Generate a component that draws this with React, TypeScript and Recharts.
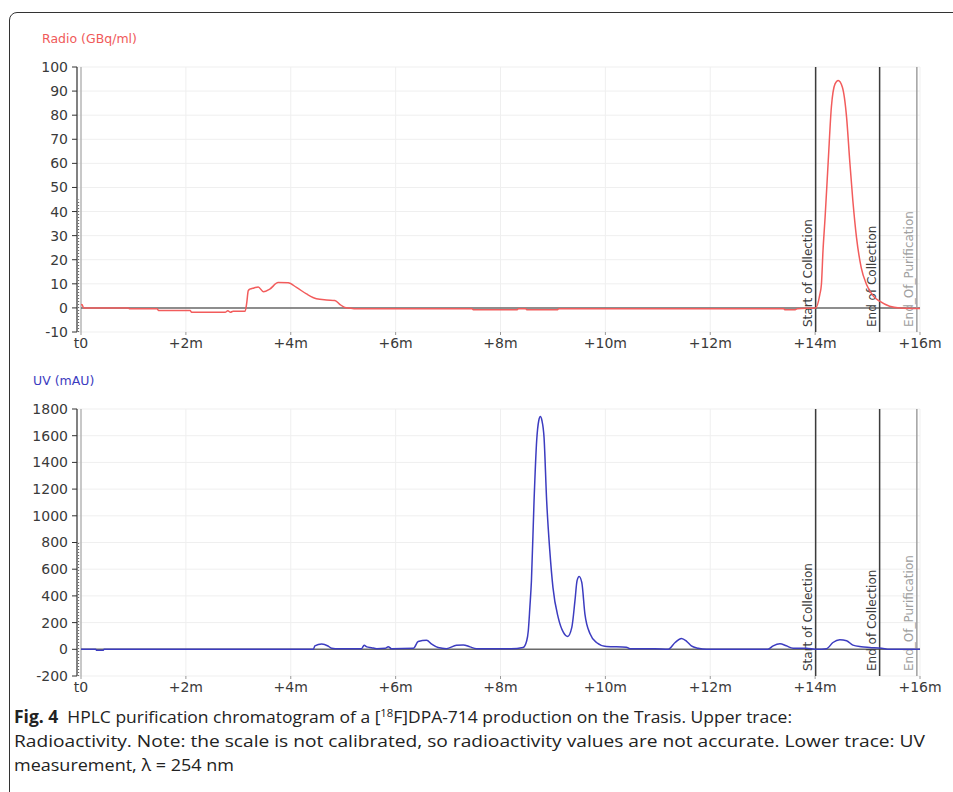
import React from 'react';
import { LineChart, Line, XAxis, YAxis, CartesianGrid, ReferenceLine } from 'recharts';

const xTicks = [0, 2, 4, 6, 8, 10, 12, 14, 16];
const radioTicks = [-10, 0, 10, 20, 30, 40, 50, 60, 70, 80, 90, 100];
const uvTicks = [-200, 0, 200, 400, 600, 800, 1000, 1200, 1400, 1600, 1800];

const radioTime = [0, 0.02, 0.05, 0.9, 0.93, 1.45, 1.48, 2.08, 2.11, 2.75, 2.8, 2.85, 2.9, 3.13, 3.16, 3.19, 3.22, 3.3, 3.38, 3.48, 3.6, 3.76, 3.95, 4.11, 4.3, 4.49, 4.68, 4.84, 4.94, 5.03, 5.12, 5.25, 7.46, 7.48, 8.31, 8.34, 8.48, 8.51, 9.08, 9.11, 13.4, 13.43, 13.62, 13.66, 14.01, 14.09, 14.12, 14.15, 14.19, 14.25, 14.31, 14.38, 14.44, 14.52, 14.6, 14.66, 14.72, 14.79, 14.88, 14.98, 15.11, 15.23, 15.42, 15.61, 16.0];
const radioValue = [1.4, 1.3, 0, 0, -0.4, -0.4, -1.1, -1.1, -1.8, -1.8, -1.2, -1.8, -1.4, -1.4, 2, 7.2, 7.8, 8.3, 8.7, 6.7, 7.8, 10.5, 10.4, 8.5, 5.8, 3.8, 3.3, 3.1, 1.4, 0.2, -0.1, -0.4, -0.4, -0.8, -0.8, -0.4, -0.4, -0.8, -0.8, -0.4, -0.4, -0.8, -0.8, -0.3, 0, 5.6, 9.8, 23.7, 37.5, 61, 83.4, 93, 94.4, 91.6, 79.1, 61, 44.4, 29.1, 16.6, 9.7, 4.9, 2.8, 0.7, 0, -0.2];

const uvTime = [0, 0.28, 0.3, 0.42, 0.44, 4.43, 4.46, 4.59, 4.71, 4.78, 4.85, 5.35, 5.4, 5.45, 5.54, 5.64, 5.8, 5.86, 5.92, 6.34, 6.43, 6.59, 6.69, 6.81, 6.97, 7.16, 7.29, 7.42, 7.54, 8.2, 8.43, 8.5, 8.53, 8.56, 8.59, 8.64, 8.69, 8.73, 8.76, 8.79, 8.83, 8.88, 8.94, 9.0, 9.1, 9.2, 9.28, 9.36, 9.42, 9.46, 9.5, 9.55, 9.61, 9.71, 9.83, 10.02, 10.4, 10.47, 10.94, 11.2, 11.33, 11.45, 11.55, 11.64, 11.77, 11.93, 13.1, 13.2, 13.33, 13.45, 13.58, 13.83, 14.03, 14.22, 14.34, 14.47, 14.6, 14.72, 14.88, 15.04, 15.27, 15.42, 16.0];
const uvValue = [0, 0, -8, -8, 0, 0, 25, 39, 25, 8, 5, 5, 30, 18, 12, 5, 7, 20, 5, 8, 58, 68, 38, 13, 5, 30, 33, 18, 5, 4, 13, 64, 139, 314, 514, 1114, 1564, 1714, 1744, 1714, 1589, 1114, 739, 464, 239, 126, 96, 164, 364, 514, 546, 501, 264, 114, 51, 21, 16, 5, 5, 0, 51, 81, 60, 26, 8, 0, 0, 26, 41, 26, 8, 8, 0, 5, 51, 71, 64, 31, 19, 14, 8, 0, 0];

// injection spike traces hugging the y axis (top value reached by the dotted trace)
const radioSpikeTop = 45;
const uvSpikeTop = 800;

const markerTimes = [14.01, 15.23, 15.94];
const markerLabels = ['Start of Collection', 'End of Collection', 'End_Of_Purification'];
const markerColors = ['#3c3c3c', '#3c3c3c', '#a0a0a0'];

const radioData = radioTime.map((t, i) => ({ t, v: radioValue[i] }));
const uvData = uvTime.map((t, i) => ({ t, v: uvValue[i] }));

const FONT = "'DejaVu Sans', Verdana, sans-serif";
const xFmt = (v: number) => (v === 0 ? 't0' : `+${v}m`);

const makeLabel = (text: string, color: string) => (props: any) => {
  const vb = props.viewBox || {};
  const x = (vb.x ?? 0) - 8;
  const y = (vb.y ?? 0) + (vb.height ?? 0) - 5;
  return (
    <text
      x={x}
      y={y}
      transform={`rotate(-90 ${x} ${y})`}
      textAnchor="start"
      dominantBaseline="central"
      fontSize={12}
      fill={color}
      style={{ fontFamily: FONT }}
    >
      {text}
    </text>
  );
};

function Trace(props: {
  data: { t: number; v: number }[];
  ticks: number[];
  domain: [number, number];
  spikeTop: number;
  color: string;
  marginTop: number;
  marginBottom: number;
}) {
  const { data, ticks, domain, spikeTop, color, marginTop, marginBottom } = props;
  return (
    <LineChart
      width={953}
      height={360}
      data={data}
      margin={{ top: marginTop, right: 33, bottom: marginBottom, left: 0 }}
      style={{ fontFamily: FONT }}
    >
      <CartesianGrid stroke="#efefef" strokeWidth={1} />
      <XAxis
        type="number"
        dataKey="t"
        domain={[0, 16]}
        ticks={xTicks}
        interval={0}
        padding={{ left: 4, right: 0 }}
        height={20}
        tickSize={3}
        tickMargin={3}
        axisLine={false}
        tickLine={{ stroke: '#999' }}
        tickFormatter={xFmt}
        tick={{ fontSize: 14, fill: '#3a3a3a', style: { fontFamily: FONT } }}
        allowDataOverflow
      />
      <YAxis
        type="number"
        domain={domain}
        ticks={ticks}
        interval={0}
        width={77}
        tickSize={5}
        tickMargin={4}
        axisLine={{ stroke: '#333', strokeWidth: 1.2 }}
        tickLine={{ stroke: '#333' }}
        tick={{ fontSize: 14, fill: '#3a3a3a', style: { fontFamily: FONT } }}
        allowDataOverflow
      />
      <ReferenceLine x={0} stroke="#a8a8a8" strokeWidth={1.2} />
      <ReferenceLine
        segment={[
          { x: -0.045, y: domain[0] },
          { x: -0.045, y: spikeTop },
        ]}
        ifOverflow="visible"
        stroke="#555"
        strokeWidth={1}
        strokeDasharray="1 2"
      />
      <ReferenceLine
        segment={[
          { x: 0, y: 0 },
          { x: 16, y: 0 },
        ]}
        stroke="#6a6a6a"
        strokeWidth={1.5}
      />
      {markerTimes.map((t, i) => (
        <ReferenceLine
          key={markerLabels[i]}
          x={t}
          stroke={markerColors[i]}
          strokeWidth={1.5}
          label={makeLabel(markerLabels[i], markerColors[i])}
        />
      ))}
      <Line
        type="monotone"
        dataKey="v"
        stroke={color}
        strokeWidth={1.5}
        dot={false}
        isAnimationActive={false}
      />
    </LineChart>
  );
}

export default function App() {
  return (
    <div
      style={{
        position: 'absolute',
        left: 0,
        top: 0,
        width: 953,
        height: 792,
        background: '#fff',
        overflow: 'hidden',
      }}
    >
      <div
        style={{
          position: 'absolute',
          left: 9,
          top: 12,
          width: 1100,
          height: 1000,
          border: '1px solid #333',
          borderRadius: 8,
          boxSizing: 'border-box',
        }}
      />
      <div
        style={{
          position: 'absolute',
          left: 42,
          top: 31,
          fontFamily: FONT,
          fontSize: 12.5,
          lineHeight: '16px',
          color: '#f05a5a',
          whiteSpace: 'nowrap',
        }}
      >
        Radio (GBq/ml)
      </div>
      <div
        style={{
          position: 'absolute',
          left: 33,
          top: 373,
          fontFamily: FONT,
          fontSize: 12.5,
          lineHeight: '16px',
          color: '#3c3cc0',
          whiteSpace: 'nowrap',
        }}
      >
        UV (mAU)
      </div>
      <div style={{ position: 'absolute', left: 0, top: 0 }}>
        <Trace data={radioData} ticks={radioTicks} domain={[-10, 100]} spikeTop={radioSpikeTop} color="#f25c5c" marginTop={67} marginBottom={8} />
      </div>
      <div style={{ position: 'absolute', left: 0, top: 340 }}>
        <Trace data={uvData} ticks={uvTicks} domain={[-200, 1800]} spikeTop={uvSpikeTop} color="#3c3cc0" marginTop={69} marginBottom={4} />
      </div>
      <svg
        width={953}
        height={102}
        style={{ position: 'absolute', left: 0, top: 690, fontFamily: "'Open Sans', 'Noto Sans', sans-serif" }}
        fontSize={17}
        fill="#222"
      >
        <text x={14} y={33} textLength={778} lengthAdjust="spacingAndGlyphs" style={{ whiteSpace: 'pre' }}>
          <tspan fontWeight={700}>Fig. 4</tspan>
          <tspan>{'  HPLC purification chromatogram of a ['}</tspan>
          <tspan dy={-6} fontSize={11}>18</tspan>
          <tspan dy={6}>{'F]DPA-714 production on the Trasis. Upper trace:'}</tspan>
        </text>
        <text x={14} y={57} textLength={911} lengthAdjust="spacingAndGlyphs">
          Radioactivity. Note: the scale is not calibrated, so radioactivity values are not accurate. Lower trace: UV
        </text>
        <text x={14} y={81} textLength={220} lengthAdjust="spacingAndGlyphs">
          measurement, λ = 254 nm
        </text>
      </svg>
    </div>
  );
}
